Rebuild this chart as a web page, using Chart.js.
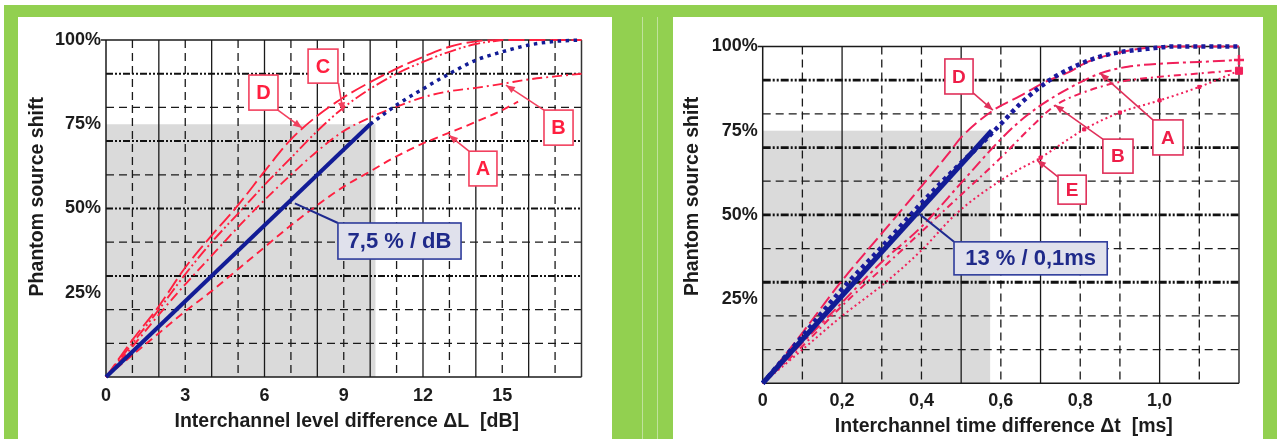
<!DOCTYPE html>
<html><head><meta charset="utf-8">
<script src="https://cdn.jsdelivr.net/npm/chart.js@4.4.1/dist/chart.umd.min.js"></script>
<style>
html,body{margin:0;padding:0;background:#fff;}
body{width:1279px;height:439px;overflow:hidden;position:relative;}
#green{position:absolute;left:4px;top:5px;width:1273px;height:440px;background:#92d050;}
.panel{position:absolute;background:#fff;}
.vline{position:absolute;top:17px;width:1px;height:430px;background:#c0e29c;}
canvas{position:absolute;}
</style></head>
<body>
<div id="green"></div>
<div class="vline" style="left:642px"></div>
<div class="vline" style="left:657px"></div>
<div class="panel" style="left:18px;top:17px;width:594px;height:430px"></div>
<div class="panel" style="left:673px;top:17px;width:590px;height:430px"></div>
<canvas id="c1" width="594" height="422" style="left:18px;top:17px"></canvas>
<canvas id="c2" width="590" height="422" style="left:673px;top:17px"></canvas>
<script>
// ================= DATA =================
// common y axis (phantom source shift, %)
const shiftTicks = [25, 50, 75, 100];
const shiftGridDashDot = [30, 50, 70, 90];
const shiftGridDashed = [10, 20, 40, 60, 80];

// ---- left chart: interchannel level difference (dB) ----
const levelTicks = [0, 3, 6, 9, 12, 15];
const levelGridDashed = [1, 3, 5, 7, 9, 11, 13, 15, 17];
const levelGridSolid = [2, 4, 6, 8, 10, 12, 14, 16];

const levelFitX = [0, 10];
const levelFitY = [0, 75];
const levelDotX = [10, 11, 12, 13, 14, 15, 16, 17, 18];
const levelDotY = [75, 80.7, 85.5, 90, 94, 96.5, 98.5, 99.6, 100];
const levelAX = [0, 1, 2, 3, 4, 5, 6, 7, 8, 9, 10, 11, 12, 13, 14, 15, 15.6];
const levelAY = [0, 6.5, 13, 19.5, 25.5, 32, 38.5, 45, 51, 56.5, 61, 65.5, 69.3, 72.5, 75.7, 79.2, 81.7];
const levelBX = [0, 1, 2, 3, 4, 5, 6, 7, 8, 9, 10, 11, 12, 13, 14, 15, 16, 17, 18];
const levelBY = [0, 9, 18.5, 27.5, 36, 44.5, 52.5, 60, 67, 73, 77, 80.2, 83, 84.8, 85.8, 87, 88.3, 89.2, 90];
const levelCX = [0, 1, 2, 3, 4, 5, 6, 7, 8, 9, 10, 11, 12, 13, 14, 15];
const levelCY = [0, 10, 20, 30.5, 40, 48.5, 57, 65, 73, 80, 85.5, 90, 93.5, 96.5, 98.8, 100];
const levelDX = [0, 1, 2, 3, 4, 5, 6, 7, 8, 9, 10, 11, 12, 13, 14, 15, 16, 17, 18];
const levelDY = [0, 11, 21, 32.5, 42, 51, 61, 70.5, 77.5, 83, 87.5, 91.5, 95, 98, 99.6, 100, 100, 100, 100];

// ---- right chart: interchannel time difference (ms) ----
const timeTicks = [0, 0.2, 0.4, 0.6, 0.8, 1.0];
const timeGridDashed = [0.1, 0.3, 0.4, 0.6, 0.8, 0.9, 1.1];
const timeGridSolid = [0.2, 0.5, 0.7, 1.0];

const timeFitX = [0, 0.577];
const timeFitY = [0, 75];
const timeDotX = [0, 0.1, 0.2, 0.3, 0.4, 0.5, 0.546, 0.6, 0.648, 0.698, 0.74, 0.8, 0.85, 0.9, 0.97, 1.036, 1.1, 1.2];
const timeDotY = [0, 14, 28, 40.5, 53.5, 65.5, 70.5, 77, 82.9, 87.9, 91.3, 94.8, 97, 98.3, 99.3, 100, 100, 100];
const timeDX = [0, 0.1, 0.2, 0.3, 0.4, 0.47, 0.5, 0.58, 0.65, 0.71, 0.77, 0.82, 0.89, 0.97, 1.05, 1.2];
const timeDY = [0, 15, 30.5, 44.5, 58.5, 68.5, 73, 81, 85.4, 89.4, 92.3, 95.5, 98, 99.6, 100, 100];
const timeAX = [0, 0.1, 0.2, 0.3, 0.4, 0.5, 0.58, 0.64, 0.7, 0.77, 0.85, 0.92, 1.02, 1.1, 1.2];
const timeAY = [0, 12, 24, 36, 46.5, 59.5, 70, 77, 82.5, 87.5, 92, 94, 95, 95.4, 96];
const timeBX = [0, 0.1, 0.2, 0.3, 0.4, 0.5, 0.6, 0.68, 0.736, 0.8, 0.9, 1.0, 1.1, 1.2];
const timeBY = [0, 11, 23, 34, 45, 56, 67, 76.5, 82.4, 86, 89.5, 91, 92, 93];
const timeEX = [0, 0.1, 0.2, 0.31, 0.4, 0.49, 0.615, 0.7, 0.81, 0.9, 1.0, 1.1, 1.2];
const timeEY = [0, 10, 20, 30, 39.5, 50.6, 61.4, 67, 75.4, 80.4, 84, 88, 92.8];

// ================= RENDERING =================
const FONT = '"Liberation Sans", Arial, Helvetica, sans-serif';
const RED = '#ff2040';
const RED2 = '#f0205a';
const BLUE = '#121c96';

function series(xs, ys) { return xs.map((x, i) => ({x: x, y: ys[i]})); }

function line(xs, ys, color, width, dash, extra) {
  return Object.assign({
    data: series(xs, ys), showLine: true, borderColor: color, backgroundColor: color,
    borderWidth: width, borderDash: dash, borderCapStyle: 'butt', pointRadius: 0,
    cubicInterpolationMode: 'monotone', clip: 6
  }, extra || {});
}

function gridPlugin(g) {
  return {
    id: 'frameGrid',
    beforeDatasetsDraw(chart) {
      const ctx = chart.ctx, xs = chart.scales.x, ys = chart.scales.y, a = chart.chartArea;
      ctx.save();
      const sx0 = xs.getPixelForValue(0), sx1 = xs.getPixelForValue(g.shade[0]);
      const sy0 = ys.getPixelForValue(0), sy1 = ys.getPixelForValue(g.shade[1]);
      ctx.fillStyle = '#dadada';
      ctx.fillRect(sx0, sy1, sx1 - sx0, sy0 - sy1);
      function seg(x0, y0, x1, y1, dash, w, col) {
        ctx.beginPath(); ctx.setLineDash(dash); ctx.lineWidth = w; ctx.strokeStyle = col;
        ctx.moveTo(x0, y0); ctx.lineTo(x1, y1); ctx.stroke();
      }
      g.vDashed.forEach(v => { const p = xs.getPixelForValue(v); seg(p, a.top, p, a.bottom, [8, 5], 1.3, '#1a1a1a'); });
      g.vSolid.forEach(v => { const p = xs.getPixelForValue(v); seg(p, a.top, p, a.bottom, [], 1.3, '#1a1a1a'); });
      g.hDashed.forEach(v => { const p = ys.getPixelForValue(v); seg(a.left, p, a.right, p, [8, 5], 1.3, '#1a1a1a'); });
      g.hDashDot.forEach(v => { const p = ys.getPixelForValue(v); seg(a.left, p, a.right, p, g.dashDot, g.dashDotWidth, '#111'); });
      seg(a.left - 5, a.top, a.right, a.top, [], 1.5, '#1a1a1a');
      seg(a.left, a.bottom, a.right, a.bottom, [], 1.5, '#1a1a1a');
      seg(a.left, a.top, a.left, a.bottom, [], 1.5, '#1a1a1a');
      seg(a.right, a.top, a.right, a.bottom, [], 1.5, '#333');
      ctx.restore();
    },
    afterDatasetsDraw(chart) {
      const ctx = chart.ctx, xs = chart.scales.x, ys = chart.scales.y, a = chart.chartArea;
      const X = v => xs.getPixelForValue(v), Y = v => ys.getPixelForValue(v);
      ctx.save();
      ctx.setLineDash([]);
      g.notes.forEach(n => {
        const fx = X(n.from[0]), fy = Y(n.from[1]), tx = X(n.to[0]), ty = Y(n.to[1]);
        ctx.strokeStyle = n.blue ? '#1f2a8f' : g.boxRed;
        ctx.lineWidth = n.blue ? 2 : 1.6;
        ctx.beginPath(); ctx.moveTo(fx, fy); ctx.lineTo(tx, ty); ctx.stroke();
        if (!n.blue) {
          const ang = Math.atan2(ty - fy, tx - fx), L = 9, W = 3.6;
          ctx.fillStyle = g.boxRed;
          ctx.beginPath();
          ctx.moveTo(tx, ty);
          ctx.lineTo(tx - L * Math.cos(ang) + W * Math.sin(ang), ty - L * Math.sin(ang) - W * Math.cos(ang));
          ctx.lineTo(tx - L * Math.cos(ang) - W * Math.sin(ang), ty - L * Math.sin(ang) + W * Math.cos(ang));
          ctx.closePath(); ctx.fill();
        }
        const bx0 = X(n.box[0]), by0 = Y(n.box[1]), bx1 = X(n.box[2]), by1 = Y(n.box[3]);
        ctx.fillStyle = n.blue ? '#e0e1ec' : '#fff';
        ctx.fillRect(bx0, by0, bx1 - bx0, by1 - by0);
        ctx.strokeStyle = n.blue ? '#2e3c9c' : g.boxRed;
        ctx.lineWidth = 1.6;
        ctx.strokeRect(bx0, by0, bx1 - bx0, by1 - by0);
        ctx.fillStyle = n.blue ? '#1f2a8a' : g.letterRed;
        ctx.font = 'bold ' + (n.blue ? g.blueFont : g.letterFont) + 'px ' + FONT;
        ctx.textAlign = 'center'; ctx.textBaseline = 'middle';
        ctx.fillText(n.text, (bx0 + bx1) / 2, (by0 + by1) / 2 + 1);
      });
      // axis titles
      ctx.fillStyle = '#1c1c1c';
      ctx.font = 'bold ' + g.titleFont + 'px ' + FONT;
      ctx.textAlign = 'center'; ctx.textBaseline = 'middle';
      ctx.fillText(g.xTitle, (a.left + a.right) / 2 + 3, g.xTitleY);
      ctx.save();
      ctx.translate(a.left - g.yTitleDx, Y(g.yTitleAt));
      ctx.rotate(-Math.PI / 2);
      ctx.fillText(g.yTitle, 0, 0);
      ctx.restore();
      ctx.restore();
    }
  };
}

function buildChart(id, s) {
  return new Chart(document.getElementById(id), {
    type: 'scatter',
    data: {datasets: s.datasets},
    options: {
      responsive: false, animation: false, devicePixelRatio: 1,
      layout: {padding: s.padding},
      plugins: {legend: {display: false}, tooltip: {enabled: false}},
      scales: {
        x: {
          type: 'linear', min: s.xMin, max: s.xMax,
          grid: {display: false, drawTicks: false}, border: {display: false},
          afterBuildTicks: sc => { sc.ticks = s.xTicks.map(v => ({value: v})); },
          afterFit: sc => { sc.height = s.xAxisHeight; },
          ticks: {autoSkip: false, maxRotation: 0, padding: s.xTickPad, color: '#1c1c1c',
            font: {family: FONT, size: s.tickFont, weight: 'bold'}, callback: v => s.xFmt(v)}
        },
        y: {
          type: 'linear', min: 0, max: 100,
          grid: {display: false, drawTicks: false}, border: {display: false},
          afterBuildTicks: sc => { sc.ticks = shiftTicks.map(v => ({value: v})); },
          afterFit: sc => { sc.width = s.yAxisWidth; },
          ticks: {autoSkip: false, padding: 5, color: '#1c1c1c',
            font: {family: FONT, size: s.tickFont, weight: 'bold'}, callback: v => v + '%'}
        }
      }
    },
    plugins: [gridPlugin(s.grid)]
  });
}

// ---- left chart ----
buildChart('c1', {
  xMin: 0, xMax: 18, xTicks: levelTicks, xFmt: v => String(v),
  padding: {left: 0, top: 23, right: 30.5, bottom: 0},
  xAxisHeight: 62, yAxisWidth: 88, xTickPad: 8, tickFont: 18,
  datasets: [
    line(levelFitX, levelFitY, BLUE, 4, [], {cubicInterpolationMode: 'default', tension: 0}),
    line(levelDotX, levelDotY, BLUE, 3.5, [3.5, 4.5]),
    line(levelDX, levelDY, RED, 1.9, [16, 5]),
    line(levelCX, levelCY, RED, 1.9, [12, 3, 2, 3, 2, 3]),
    line(levelBX, levelBY, RED, 1.9, [10, 4, 2, 4]),
    line(levelAX, levelAY, RED, 1.9, [8, 5])
  ],
  grid: {
    shade: [10.2, 75], vDashed: levelGridDashed, vSolid: levelGridSolid,
    hDashed: shiftGridDashed, hDashDot: shiftGridDashDot, dashDot: [7, 2, 2, 2, 2, 2], dashDotWidth: 2,
    boxRed: '#f2405e', letterRed: '#ff1f3f', letterFont: 20, blueFont: 22, titleFont: 19.5,
    xTitle: 'Interchannel level difference \u0394L  [dB]', xTitleY: 405,
    yTitle: 'Phantom source shift', yTitleDx: 68, yTitleAt: 53.5,
    notes: [
      {text: 'C', box: [7.65, 97.3, 8.78, 87.2], from: [8.8, 87.2], to: [8.97, 78.8]},
      {text: 'D', box: [5.41, 89.6, 6.51, 79.2], from: [6.47, 79.4], to: [7.42, 73.9]},
      {text: 'B', box: [16.58, 79.2, 17.68, 68.8], from: [16.58, 79.2], to: [15.14, 86.6]},
      {text: 'A', box: [13.74, 67, 14.8, 56.7], from: [13.74, 67], to: [12.98, 71.8]},
      {text: '7,5 % / dB', blue: true, box: [8.78, 45.7, 13.44, 35], from: [8.78, 45.7], to: [7.15, 51.5]}
    ]
  }
});

// ---- right chart ----
const endCross = n => ({
  pointStyle: 'cross', pointBorderWidth: 2.5,
  pointRadius: c => (c.dataIndex === n - 1 ? 5 : 0)
});
buildChart('c2', {
  xMin: 0, xMax: 1.2, xTicks: timeTicks, xFmt: v => (v === 0 ? '0' : v.toFixed(1).replace('.', ',')),
  padding: {left: 0, top: 29.5, right: 24, bottom: 0},
  xAxisHeight: 55.7, yAxisWidth: 89.7, xTickPad: 7, tickFont: 18,
  datasets: [
    line(timeFitX, timeFitY, BLUE, 5, [], {cubicInterpolationMode: 'default', tension: 0}),
    line(timeDotX, timeDotY, '#1a1a9e', 4.5, [4, 4]),
    line(timeDX, timeDY, RED2, 2, [14, 5]),
    line(timeAX, timeAY, RED2, 2, [12, 4, 3, 4], endCross(timeAX.length)),
    line(timeBX, timeBY, RED2, 2, [7, 4, 2, 4]),
    line(timeEX, timeEY, RED2, 2, [2, 3], {
      pointStyle: 'rect', pointBorderWidth: 1,
      pointRadius: c => (c.dataIndex === timeEX.length - 1 ? 5 : (c.dataIndex >= 7 ? 2.2 : 0))
    })
  ],
  grid: {
    shade: [0.573, 75], vDashed: timeGridDashed, vSolid: timeGridSolid,
    hDashed: shiftGridDashed, hDashDot: shiftGridDashDot, dashDot: [8, 2, 2, 2, 2, 2], dashDotWidth: 2.8,
    boxRed: '#e0305a', letterRed: '#ee1e48', letterFont: 19, blueFont: 22, titleFont: 19.5,
    xTitle: 'Interchannel time difference \u0394t  [ms]', xTitleY: 410,
    yTitle: 'Phantom source shift', yTitleDx: 70, yTitleAt: 55.5,
    notes: [
      {text: 'D', box: [0.459, 96.3, 0.53, 85.9], from: [0.53, 86.2], to: [0.58, 81.1]},
      {text: 'A', box: [0.983, 78.2, 1.059, 67.8], from: [0.983, 78.2], to: [0.85, 92.1]},
      {text: 'B', box: [0.857, 72.5, 0.933, 62.4], from: [0.857, 72.5], to: [0.736, 82.6]},
      {text: 'E', box: [0.744, 61.8, 0.815, 53.2], from: [0.744, 61.3], to: [0.691, 66.3]},
      {text: '13 % / 0,1ms', blue: true, box: [0.482, 42, 0.868, 32.2], from: [0.482, 42], to: [0.391, 50.6]}
    ]
  }
});
</script>
</body></html>
